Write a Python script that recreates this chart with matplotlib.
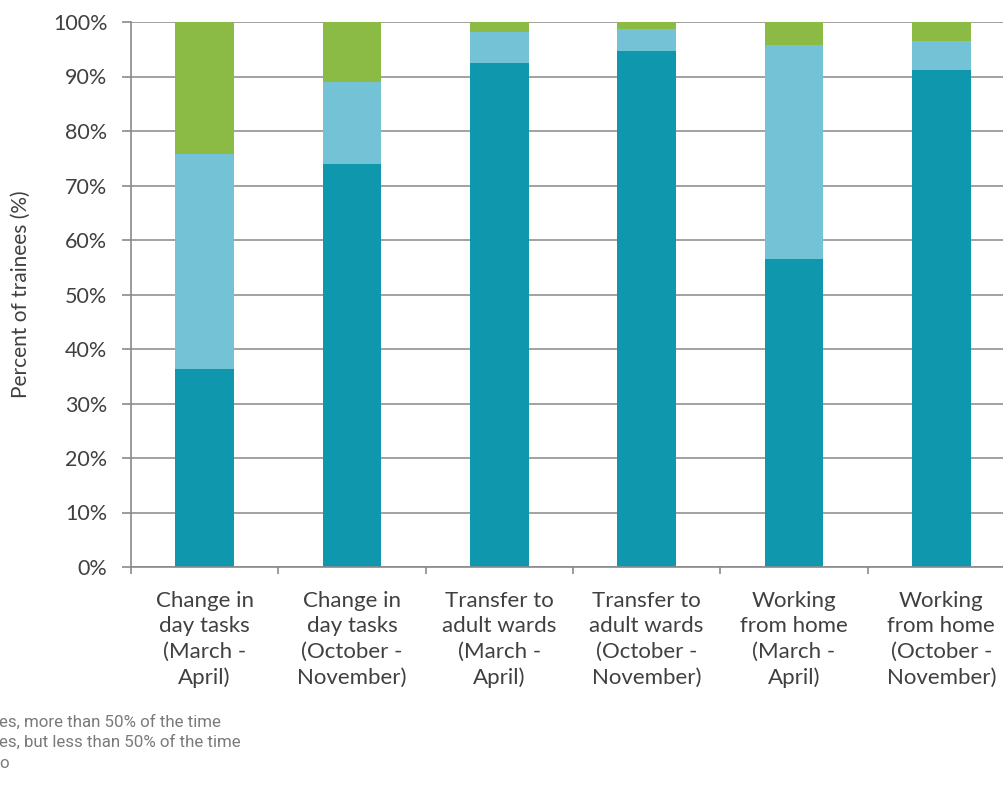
import numpy as np
import matplotlib
matplotlib.use('Agg')
import matplotlib.pyplot as plt

categories = ["Change in\nday tasks\n(March -\nApril)",
              "Change in\nday tasks\n(October -\nNovember)",
              "Transfer to\nadult wards\n(March -\nApril)",
              "Transfer to\nadult wards\n(October -\nNovember)",
              "Working\nfrom home\n(March -\nApril)",
              "Working\nfrom home\n(October -\nNovember)"]
yes_more = [36.3, 73.9, 92.5, 94.7, 56.6, 91.2]
yes_less = [39.4, 15.0, 5.7, 4.1, 39.1, 5.4]
no = [24.3, 11.1, 1.8, 1.2, 4.3, 3.4]
series_names = ["Yes, more than 50% of the time",
                "Yes, but less than 50% of the time",
                "No"]
colors = ["#0f97ae", "#74c2d6", "#8cbb45"]

fig = plt.figure(figsize=(10.04, 7.93), dpi=100)
ax = fig.add_axes([131 / 1004, 226 / 793, 884 / 1004, 545 / 793])

x = np.arange(len(categories))
bottom = np.zeros(len(categories))
for vals, c in zip([yes_more, yes_less, no], colors):
    ax.bar(x, vals, width=0.4, bottom=bottom, color=c, zorder=2)
    bottom += np.array(vals)

ax.set_xlim(-0.5, len(categories) - 0.5)
ax.set_ylim(0, 100)
ax.set_yticks(np.arange(0, 101, 10))
ax.set_yticklabels([f"{v}%" for v in range(0, 101, 10)])
ax.yaxis.grid(True, color="#9a9a9a", lw=1.3, zorder=0)
ax.set_axisbelow(True)

ax.set_xticks(x)
ax.set_xticklabels(categories, fontsize=16, color="#404040", family="Lato",
                   linespacing=1.35)
ax.set_xticks(np.arange(-0.5, len(categories), 1), minor=True)
ax.tick_params(axis="x", which="major", length=0, pad=17)
ax.tick_params(axis="x", which="minor", length=5, color="#8a8a8a", width=1.2)
ax.tick_params(axis="y", length=6.5, color="#8a8a8a", width=1.2, pad=10.5,
               labelsize=15.5, labelcolor="#404040")
for lab in ax.get_yticklabels():
    lab.set_family("Lato")

for s in ["top", "right"]:
    ax.spines[s].set_visible(False)
for s in ["left", "bottom"]:
    ax.spines[s].set_color("#8a8a8a")
    ax.spines[s].set_linewidth(1.2)

ax.set_ylabel("Percent of trainees (%)", fontsize=15, color="#404040",
              family="Lato")
ax.yaxis.set_label_coords(-100 / 884, 0.5)

# legend text, cut at the left edge like the source crop
for i, name in enumerate(series_names):
    fig.text(-11.5 / 1004, (793 - 722 - i * 20.5) / 793, name, fontsize=12.2,
             color="#7a7a7a", family="Roboto", va="center", ha="left")

fig.savefig("out.png", dpi=100)
